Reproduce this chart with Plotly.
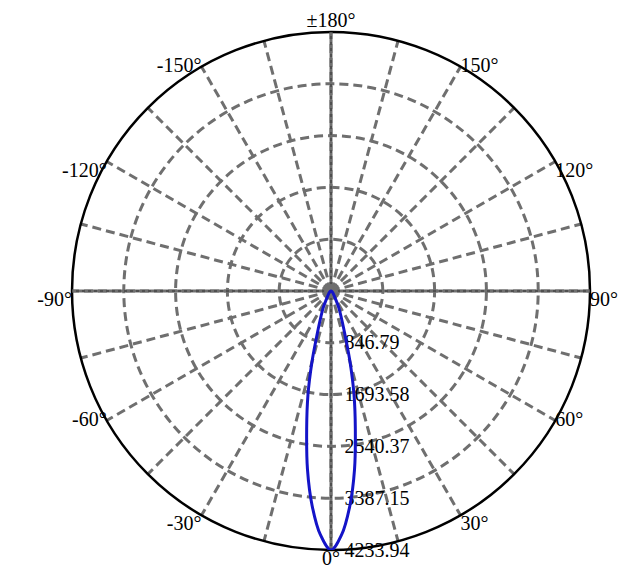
import plotly.graph_objects as go

# Candela distribution
angles = [-90, -70, -60, -50, -40, -30, -25, -20, -17.5, -15, -12.5, -10, -7.5, -5, -2.5,
          0, 2.5, 5, 7.5, 10, 12.5, 15, 17.5, 20, 25, 30, 40, 50, 60, 70, 90]
intensity = [0, 5, 15, 30, 60, 140, 300, 540, 773, 1206, 1740, 2290, 2945, 3528, 3988,
             4233.94, 3988, 3528, 2945, 2290, 1740, 1206, 773, 540, 300, 140, 60, 30, 15, 5, 0]

r_max = 4233.94
r_ticks = [846.79, 1693.58, 2540.37, 3387.15, 4233.94]
r_labels = ["846.79", "1693.58", "2540.37", "3387.15", "4233.94"]

theta_grid = list(range(0, 360, 15))
label_thetas = [0, 30, 60, 90, 120, 150, 180, 210, 240, 270, 300, 330]
label_texts = ["0°", "30°", "60°", "90°", "120°", "150°", "±180°",
               "-150°", "-120°", "-90°", "-60°", "-30°"]

axis_dirs = [0, 90, 180, 270]

FONT = "Liberation Serif, Times New Roman, serif"
GRID = "#6f6f6f"

# placement of angular labels around the rim
label_pos = {0: "bottom center", 30: "bottom right", 60: "middle right", 90: "bottom right",
             120: "bottom right", 150: "middle right", 180: "top center",
             210: "middle left", 240: "bottom left", 270: "bottom left",
             300: "middle left", 330: "bottom left"}

fig = go.Figure()

# solid gray main axes with thin dark dashes
for a in axis_dirs:
    fig.add_trace(go.Scatterpolar(r=[0, r_max], theta=[a, a], mode="lines",
                                  line=dict(color=GRID, width=3), hoverinfo="skip",
                                  showlegend=False))
    fig.add_trace(go.Scatterpolar(r=[0, r_max], theta=[a, a], mode="lines",
                                  line=dict(color="#222222", width=0.8, dash="3px,3px"),
                                  hoverinfo="skip", showlegend=False))

# center disc
fig.add_trace(go.Scatterpolar(r=[0], theta=[0], mode="markers",
                              marker=dict(color=GRID, size=14), hoverinfo="skip",
                              showlegend=False))

# beam curve
fig.add_trace(go.Scatterpolar(r=intensity, theta=angles, mode="lines",
                              line=dict(color="#1414c8", width=3, shape="spline", smoothing=1),
                              showlegend=False))

# angular labels on the rim
fig.add_trace(go.Scatterpolar(r=[r_max] * len(label_thetas), theta=label_thetas,
                              mode="text", text=label_texts,
                              textposition=[label_pos[t] for t in label_thetas],
                              textfont=dict(family=FONT, size=20, color="black"),
                              cliponaxis=False, hoverinfo="skip", showlegend=False))

fig.update_layout(
    width=643, height=584,
    margin=dict(l=0, r=0, t=0, b=0),
    paper_bgcolor="white",
    font=dict(family=FONT, size=20, color="black"),
    polar=dict(
        domain=dict(x=[64 / 643, 582 / 643], y=[42 / 584, 560 / 584]),
        bgcolor="white",
        angularaxis=dict(
            rotation=270, direction="counterclockwise",
            tickmode="array", tickvals=theta_grid, showticklabels=False,
            ticks="", showline=True, linecolor="black", linewidth=2.5,
            showgrid=True, gridcolor=GRID, gridwidth=2.5, griddash="9px,5px",
            layer="below traces",
        ),
        radialaxis=dict(
            range=[0, r_max], angle=-90, side="counterclockwise", tickangle=-90,
            tickmode="array", tickvals=r_ticks, ticktext=r_labels,
            ticks="outside", ticklen=9, tickcolor="rgba(0,0,0,0)", showline=False,
            showgrid=True, gridcolor=GRID, gridwidth=2.5, griddash="9px,5px",
            layer="below traces",
            tickfont=dict(family=FONT, size=20, color="black"),
        ),
    ),
)

fig.write_html("out.html")
